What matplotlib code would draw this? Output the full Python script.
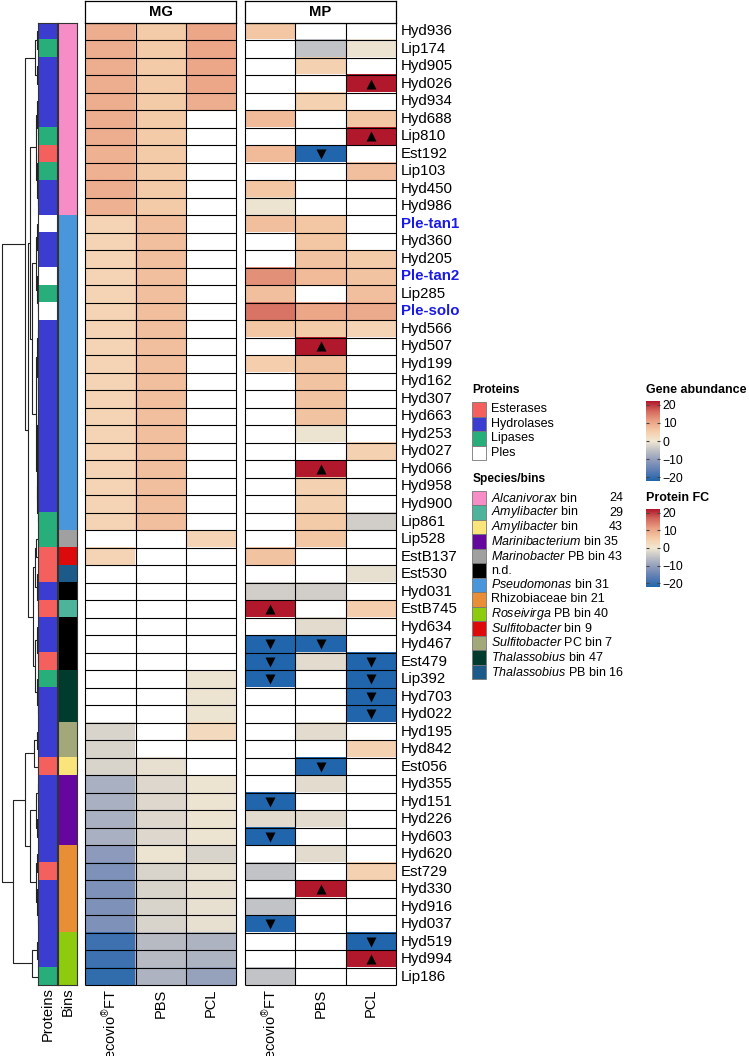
import numpy as np
import matplotlib
matplotlib.use("Agg")
import matplotlib.pyplot as plt
from matplotlib.colors import LinearSegmentedColormap, to_rgb
from matplotlib.patches import Rectangle

plt.rcParams["font.family"] = ["Liberation Sans", "DejaVu Sans"]
plt.rcParams["mathtext.fontset"] = "custom"
plt.rcParams["mathtext.rm"] = "Liberation Sans"
plt.rcParams["mathtext.it"] = "Liberation Sans:italic"
plt.rcParams["mathtext.bf"] = "Liberation Sans:bold"

nan = np.nan

genes = ["Hyd936", "Lip174", "Hyd905", "Hyd026", "Hyd934", "Hyd688", "Lip810", "Est192",
         "Lip103", "Hyd450", "Hyd986", "Ple-tan1", "Hyd360", "Hyd205", "Ple-tan2", "Lip285",
         "Ple-solo", "Hyd566", "Hyd507", "Hyd199", "Hyd162", "Hyd307", "Hyd663", "Hyd253",
         "Hyd027", "Hyd066", "Hyd958", "Hyd900", "Lip861", "Lip528", "EstB137", "Est530",
         "Hyd031", "EstB745", "Hyd634", "Hyd467", "Est479", "Lip392", "Hyd703", "Hyd022",
         "Hyd195", "Hyd842", "Est056", "Hyd355", "Hyd151", "Hyd226", "Hyd603", "Hyd620",
         "Est729", "Hyd330", "Hyd916", "Hyd037", "Hyd519", "Hyd994", "Lip186"]

row_bins = (["Alc24"] * 11 + ["Pse31"] * 18 + ["MarPB43", "Sul9", "ThaPB16", "nd", "Amy29"]
            + ["nd"] * 3 + ["Tha47"] * 3 + ["SulPC7"] * 2 + ["Amy43"] + ["Mar35"] * 4
            + ["Rhi21"] * 5 + ["RosPB40"] * 3)

columns = ["ecovio$^{®}$FT", "PBS", "PCL"]

mg_ecovio = [8.5, 8.5, 8.5, 8.5, 8.5, 8.5, 8.5, 8.0, 8.0, 8.5, 8.0,
             3.5, 3.5, 3.5, 3.5, 3.5, 3.5, 3.5, 3.5, 3.5, 3.5, 3.5, 3.5, 3.5, 3.5, 3.5, 3.5, 3.5, 3.5,
             nan, 3.5, nan, nan, nan, nan, nan, nan, nan, nan, nan,
             -2.5, -2.5, -2.5, -7, -7, -7, -7, -10, -11.5, -11.5, -11.5, -11.5, -17.5, -17.5, -18.5]
mg_pbs = [5, 5, 5, 5, 5, 5, 5, 5, 5, 5, 5,
          6.5, 6.5, 6.5, 6.5, 6.5, 6.5, 6.5, 6.5, 6.5, 6.5, 6.5, 6.5, 6.5, 6.5, 6.5, 6.5, 6.5, 6.5,
          nan, nan, nan, nan, nan, nan, nan, nan, nan, nan, nan, nan, nan,
          -1.0, -2, -2, -2, -2, -0.5, -2.5, -2.5, -2.5, -2.5, -5.5, -5.5, -6.5]
mg_pcl = [9.5, 9.5, 9.5, 9.5, 8.5, nan, nan, nan, nan, nan, nan,
          nan, nan, nan, nan, nan, nan, nan, nan, nan, nan, nan, nan, nan, nan, nan, nan, nan, nan,
          3.5, nan, nan, nan, nan, nan, nan, nan, -0.5, -0.5, -0.5,
          2.5, nan, nan, -0.5, -0.5, -0.5, -0.5, -2.5, -1, -1, -1, -1, -6.5, -6.5, -9]

mp_ecovio = [5.5, nan, nan, nan, nan, 7, nan, 7, nan, 5.5, -0.5,
             6.5, nan, nan, 11.5, 6.5, 14, 5.5, nan, 4.5, nan, nan, nan, nan, nan, nan, nan, nan, nan,
             nan, 6, nan, -3, 20, nan, -20, -20, -20, nan, nan,
             nan, nan, nan, nan, -20, -1.5, -20, nan, -4.5, nan, -4.5, -20, nan, nan, -4.5]
mp_pbs = [nan, -4.5, 4, nan, 4, nan, nan, -20, nan, nan, nan,
          5.5, 5.5, 6, 7, nan, 9.5, 5, 20, 6, 6, 6, 6, -0.5, nan, 20, 4, 4, 5,
          5.5, nan, nan, -3, nan, -1.5, -20, -1.5, nan, nan, nan,
          -1.5, nan, -20, -1.5, nan, -1.5, nan, -1.5, nan, 20, nan, nan, nan, nan, nan]
mp_pcl = [nan, -0.5, nan, 20, nan, 5.5, 20, nan, 6.5, nan, nan,
          nan, nan, 5, 6, 6.5, 9, 3.5, nan, nan, nan, nan, nan, nan, 4, nan, nan, nan, -3,
          nan, nan, -1, nan, 4.5, nan, nan, -20, -20, -20, -20,
          nan, 4, nan, nan, nan, nan, nan, nan, 4, nan, nan, nan, -20, 20, nan]

# significance marks in the MP panel: "^" up, "v" down
mp_sig_ecovio = {33: "^", 35: "v", 36: "v", 37: "v", 44: "v", 46: "v", 51: "v"}
mp_sig_pbs = {7: "v", 18: "^", 25: "^", 35: "v", 42: "v", 49: "^"}
mp_sig_pcl = {3: "^", 6: "^", 36: "v", 37: "v", 38: "v", 39: "v", 52: "v", 53: "^"}

protein_classes = ["Esterases", "Hydrolases", "Lipases", "Ples"]
protein_colors = {"Esterases": "#F4605E", "Hydrolases": "#3A3DD0",
                  "Lipases": "#27AE7A", "Ples": "#FFFFFF"}
prefix_class = {"Est": "Esterases", "Hyd": "Hydrolases", "Lip": "Lipases", "Ple": "Ples"}

bin_keys = ["Alc24", "Amy29", "Amy43", "Mar35", "MarPB43", "nd", "Pse31", "Rhi21",
            "RosPB40", "Sul9", "SulPC7", "Tha47", "ThaPB16"]
bin_labels = [r"$\mathit{Alcanivorax}$ bin", r"$\mathit{Amylibacter}$ bin",
              r"$\mathit{Amylibacter}$ bin", r"$\mathit{Marinibacterium}$ bin 35",
              r"$\mathit{Marinobacter}$ PB bin 43", "n.d.", r"$\mathit{Pseudomonas}$ bin 31",
              "Rhizobiaceae bin 21", r"$\mathit{Roseivirga}$ PB bin 40",
              r"$\mathit{Sulfitobacter}$ bin 9", r"$\mathit{Sulfitobacter}$ PC bin 7",
              r"$\mathit{Thalassobius}$ bin 47", r"$\mathit{Thalassobius}$ PB bin 16"]
bin_numbers = ["24", "29", "43", "", "", "", "", "", "", "", "", "", ""]
bin_colors = ["#F78DC6", "#4DB39A", "#F9E57A", "#65079E", "#A0A0A0", "#000000", "#4A96DA",
              "#E88E36", "#8CCB0E", "#DC0A0A", "#A3A87A", "#003C2E", "#1C5A8A"]

# dendrogram: (height, left, right); leaves are row indices
tree = (36.0,
        (13.5,
         (3.0, (1.0, 0, 1), (1.2, 2, 3)),
         (10.0,
          (8.0,
           (2.5, (1.0, 4, (0.6, 5, 6)), (1.5, (0.8, 7, 8), (0.7, 9, 10))),
           (6.3,
            (2.0, (1.2, 11, (0.6, 12, 13)), (1.4, 14, (0.7, 15, 16))),
            (2.5, (1.5, (0.5, 17, 18), (0.8, 19, (0.4, 20, 21))),
             (1.8, (0.9, (0.5, 22, 23), (0.6, 24, 25)), (1.0, 26, (0.5, 27, 28)))))),
          (5.5,
           (3.5, (2.0, 29, 30), (1.5, 31, (0.8, 32, 33))),
           (3.0, (1.0, 34, (0.5, 35, 36)), (1.2, 37, (0.6, 38, 39)))))),
        (25.0,
         (13.0,
          (4.0, (1.5, 40, 41), 42),
          (8.0, (2.0, (0.8, 43, 44), (0.9, 45, 46)), (2.5, (1.0, 47, 48), (1.2, 49, (0.6, 50, 51))))),
         (6.0, (1.5, 52, 53), 54)))

cmap = LinearSegmentedColormap.from_list(
    "fc",
    [(0.0, "#2166AC"), (0.125, "#5C7DB3"), (0.25, "#8D9ABB"), (0.375, "#BDBFC5"),
     (0.5, "#F2E8D3"), (0.625, "#F5CCA9"), (0.75, "#EBA285"), (0.875, "#D46A5E"),
     (1.0, "#B2182B")])
cmap.set_bad("white")

W, H = 749, 1056
n = len(genes)
top, bot = 22.7, 985.3
row_h = (bot - top) / n

fig = plt.figure(figsize=(W / 100, H / 100), dpi=100)


def px_axes(x0, y0, x1, y1):
    return fig.add_axes([x0 / W, 1 - y1 / H, (x1 - x0) / W, (y1 - y0) / H])


def bare(ax):
    ax.set_xticks([])
    ax.set_yticks([])


def draw_tree(ax, node):
    if isinstance(node, int):
        return 0.0, float(node)
    h, left, right = node
    hl, yl = draw_tree(ax, left)
    hr, yr = draw_tree(ax, right)
    ax.plot([hl, h, h, hr], [yl, yl, yr, yr], color="#222222", lw=0.8,
            solid_capstyle="butt", clip_on=False)
    return h, (yl + yr) / 2


# dendrogram
dax = px_axes(0, top, 38.3, bot)
draw_tree(dax, tree)
dax.set_xlim(38.3, 0)
dax.set_ylim(n - 0.5, -0.5)
dax.axis("off")

# annotation columns
prot_rgb = np.array([[to_rgb(protein_colors[prefix_class[g[:3]]])] for g in genes])
bin_rgb = np.array([[to_rgb(bin_colors[bin_keys.index(b)])] for b in row_bins])
for (x0, x1), rgb in [((38.3, 56.7), prot_rgb), ((58.0, 76.7), bin_rgb)]:
    ax = px_axes(x0, top, x1, bot)
    ax.imshow(rgb, aspect="auto", interpolation="nearest", extent=(-0.5, 0.5, n - 0.5, -0.5))
    bare(ax)
    for s in ax.spines.values():
        s.set_linewidth(0.8)
        s.set_color("#333333")


def draw_panel(x0, x1, title, cols, sigs=None):
    ax = px_axes(x0, top, x1, bot)
    data = np.array(cols, dtype=float).T
    ax.imshow(np.ma.masked_invalid(data), cmap=cmap, vmin=-20, vmax=20, aspect="auto",
              interpolation="nearest", extent=(-0.5, 2.5, n - 0.5, -0.5))
    ax.hlines(np.arange(n + 1) - 0.5, -0.5, 2.5, colors="black", lw=0.8, clip_on=False)
    ax.vlines(np.arange(4) - 0.5, -0.5, n - 0.5, colors="black", lw=0.8, clip_on=False)
    if sigs:
        for j, sig in enumerate(sigs):
            for i, m in sig.items():
                ax.scatter(j, i, marker=m, s=52, color="black", linewidths=0, zorder=3)
    ax.set_xlim(-0.5, 2.5)
    ax.set_ylim(n - 0.5, -0.5)
    bare(ax)
    for s in ax.spines.values():
        s.set_visible(False)
    hx = px_axes(x0, 0.6, x1, top)
    bare(hx)
    for s in hx.spines.values():
        s.set_linewidth(0.9)
    hx.text(0.5, 0.5, title, ha="center", va="center", fontsize=10.7, fontweight="bold",
            transform=hx.transAxes)
    return ax


draw_panel(85.3, 236.0, "MG", [mg_ecovio, mg_pbs, mg_pcl])
draw_panel(245.0, 396.0, "MP", [mp_ecovio, mp_pbs, mp_pcl],
           [mp_sig_ecovio, mp_sig_pbs, mp_sig_pcl])


def colorbar(x0, y0, x1, y1, title):
    cax = px_axes(x0, y0, x1, y1)
    grad = np.linspace(-20, 20, 200).reshape(-1, 1)
    cax.imshow(grad, cmap=cmap, vmin=-20, vmax=20, aspect="auto", origin="lower",
               extent=(0, 1, -22.2, 22.2))
    cax.set_xlim(0, 1)
    cax.set_ylim(-22.2, 22.2)
    cax.set_xticks([])
    cax.set_yticks([-20, -10, 0, 10, 20])
    cax.set_yticklabels(["\u221220", "\u221210", "0", "10", "20"])
    cax.yaxis.tick_right()
    cax.tick_params(axis="y", left=True, right=True, direction="in", length=2.5, width=0.8,
                    color="#444444", labelsize=8.8, pad=2)
    for s in cax.spines.values():
        s.set_visible(False)
    fig.text(x0 / W, 1 - (y0 - 11) / H, title, fontsize=9, fontweight="bold",
             ha="left", va="center")


colorbar(646.0, 401.0, 660.0, 481.0, "Gene abundance")
colorbar(646.0, 509.0, 660.0, 587.0, "Protein FC")

# overlay for labels and legends (pixel coordinates)
ov = fig.add_axes([0, 0, 1, 1])
ov.set_xlim(0, W)
ov.set_ylim(H, 0)
ov.axis("off")

for i, g in enumerate(genes):
    y = top + row_h * (i + 0.5)
    if g.startswith("Ple"):
        ov.text(400.5, y, g, fontsize=10.8, fontweight="bold", color="#1A1AE6",
                ha="left", va="center")
    else:
        ov.text(400.5, y, g, fontsize=10.8, ha="left", va="center")

for x0, x1 in [(85.3, 236.0), (245.0, 396.0)]:
    cw = (x1 - x0) / 3
    for j, c in enumerate(columns):
        ov.text(x0 + cw * (j + 0.5), 989, c, rotation=90, fontsize=10.5,
                ha="center", va="top")
ov.text(47.5, 987, "Proteins", rotation=90, fontsize=10.5, ha="center", va="top")
ov.text(67.3, 987, "Bins", rotation=90, fontsize=10.5, ha="center", va="top")

# Proteins legend
ov.text(472.5, 390, "Proteins", fontsize=8.6, fontweight="bold", ha="left", va="center")
for k, cls in enumerate(protein_classes):
    y = 409.3 + 14.5 * k
    ov.add_patch(Rectangle((471.7, y - 7.25), 14.3, 14.5, facecolor=protein_colors[cls],
                           edgecolor="#777777", lw=0.6))
    ov.text(490.7, y, cls, fontsize=9, ha="left", va="center")

# Species/bins legend
ov.text(472.5, 479, "Species/bins", fontsize=8.6, fontweight="bold", ha="left", va="center")
for k, (lab, num, col) in enumerate(zip(bin_labels, bin_numbers, bin_colors)):
    y = 498 + 14.5 * k
    ov.add_patch(Rectangle((471.7, y - 7.25), 14.3, 14.5, facecolor=col,
                           edgecolor="#777777", lw=0.6))
    ov.text(490.7, y, lab, fontsize=9, ha="left", va="center")
    if num:
        ov.text(623, y, num, fontsize=9, ha="right", va="center")

fig.savefig("out.png", dpi=100)
